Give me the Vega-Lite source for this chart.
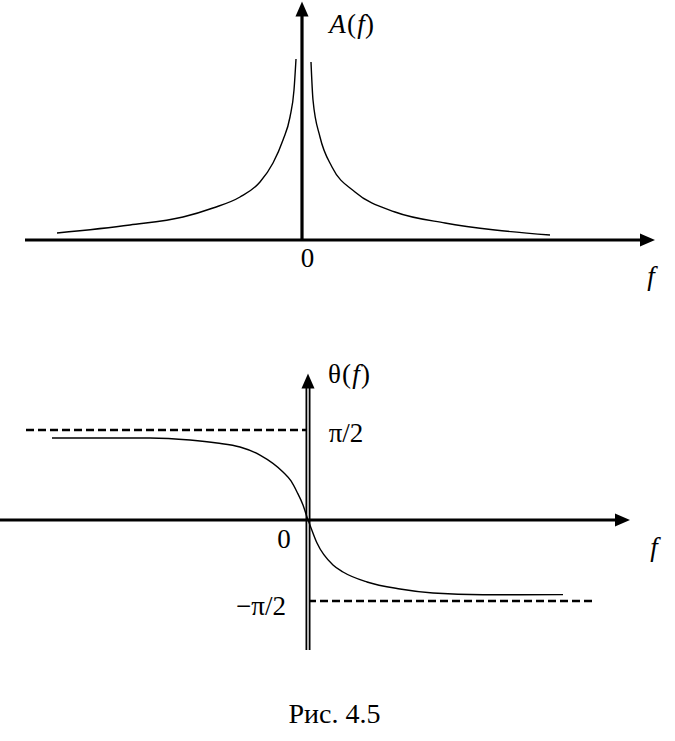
{
  "$schema": "https://vega.github.io/schema/vega-lite/v6.json",
  "padding": 0,
  "bounds": "flush",
  "spacing": 50,
  "background": "white",
  "config": {"view": {"stroke": null}, "font": "Liberation Serif, Times New Roman, DejaVu Serif, serif"},
  "title": {"text": "Рис. 4.5", "orient": "bottom", "anchor": "middle", "frame": "group", "offset": 63, "baseline": "alphabetic", "font": "Liberation Serif, Times New Roman, DejaVu Serif, serif", "fontSize": 28, "fontWeight": "normal", "color": "black", "dx": -3},
  "datasets": {
    "amplitude": [
      {"branch": "left", "f": -4.9, "A": 0.175},
      {"branch": "left", "f": -3.44, "A": 0.375},
      {"branch": "left", "f": -2.38, "A": 0.575},
      {"branch": "left", "f": -1.78, "A": 0.8},
      {"branch": "left", "f": -1.24, "A": 1.075},
      {"branch": "left", "f": -0.84, "A": 1.45},
      {"branch": "left", "f": -0.58, "A": 1.925},
      {"branch": "left", "f": -0.38, "A": 2.5},
      {"branch": "left", "f": -0.24, "A": 3.075},
      {"branch": "left", "f": -0.16, "A": 3.75},
      {"branch": "left", "f": -0.12, "A": 4.525},
      {"branch": "right", "f": 0.18, "A": 4.45},
      {"branch": "right", "f": 0.22, "A": 3.5},
      {"branch": "right", "f": 0.36, "A": 2.575},
      {"branch": "right", "f": 0.6, "A": 1.825},
      {"branch": "right", "f": 1.06, "A": 1.2},
      {"branch": "right", "f": 1.86, "A": 0.7},
      {"branch": "right", "f": 2.86, "A": 0.425},
      {"branch": "right", "f": 3.86, "A": 0.25},
      {"branch": "right", "f": 4.96, "A": 0.125}
    ],
    "axes1": [
      {"axis": "f", "f": -5.54, "A": 0},
      {"axis": "f", "f": 6.91, "A": 0},
      {"axis": "A", "f": 0, "A": 0},
      {"axis": "A", "f": 0, "A": 5.775}
    ],
    "arrows1": [
      {"dir": "right", "f": 6.91, "A": 0},
      {"dir": "up", "f": 0, "A": 5.775}
    ],
    "symbols1": [
      {"t": "(", "f": 0.99, "A": 5.175},
      {"t": ")", "f": 1.35, "A": 5.175},
      {"t": "0", "f": 0.11, "A": -0.675}
    ],
    "variables1": [
      {"t": "A", "f": 0.71, "A": 5.175},
      {"t": "f", "f": 1.18, "A": 5.175},
      {"t": "f", "f": 6.98, "A": -1.125}
    ],
    "phase": [
      {"f": -5.12, "theta": 1.431},
      {"f": -3.16, "theta": 1.431},
      {"f": -2.36, "theta": 1.396},
      {"f": -1.82, "theta": 1.344},
      {"f": -1.36, "theta": 1.274},
      {"f": -0.96, "theta": 1.134},
      {"f": -0.5, "theta": 0.838},
      {"f": -0.34, "theta": 0.681},
      {"f": -0.22, "theta": 0.489},
      {"f": -0.1, "theta": 0.262},
      {"f": 0, "theta": 0},
      {"f": 0.04, "theta": -0.1},
      {"f": 0.18, "theta": -0.446},
      {"f": 0.5, "theta": -0.873},
      {"f": 0.7, "theta": -1.008},
      {"f": 1.18, "theta": -1.202},
      {"f": 1.84, "theta": -1.338},
      {"f": 2.5, "theta": -1.416},
      {"f": 3.5, "theta": -1.45},
      {"f": 5.1, "theta": -1.447}
    ],
    "guides2": [
      {"level": "plus", "f": -5.64, "theta": 1.5708},
      {"level": "plus", "f": 0, "theta": 1.5708},
      {"level": "minus", "f": 0, "theta": -1.5708},
      {"level": "minus", "f": 5.68, "theta": -1.5708}
    ],
    "axisH2": [
      {"f": -6.16, "theta": 0},
      {"f": 6.29, "theta": 0}
    ],
    "axisV2": [
      {"f": 0, "theta": -2.521},
      {"f": 0, "theta": 2.426}
    ],
    "arrows2": [
      {"dir": "right", "f": 6.29, "theta": 0},
      {"dir": "up", "f": 0, "theta": 2.426}
    ],
    "symbols2": [
      {"t": "θ", "f": 0.53, "theta": 2.391},
      {"t": "(", "f": 0.77, "theta": 2.391},
      {"t": ")", "f": 1.15, "theta": 2.391},
      {"t": "π/2", "f": 0.76, "theta": 1.361},
      {"t": "0", "f": -0.48, "theta": -0.543},
      {"t": "−π/2", "f": -0.94, "theta": -1.842}
    ],
    "variables2": [
      {"t": "f", "f": 0.96, "theta": 2.391},
      {"t": "f", "f": 6.92, "theta": -0.698}
    ]
  },
  "vconcat": [
    {
      "width": 675,
      "height": 290,
      "encoding": {
        "x": {"field": "f", "type": "quantitative", "scale": {"domain": [-6.04, 7.46], "nice": false, "zero": false}, "axis": null},
        "y": {"field": "A", "type": "quantitative", "scale": {"domain": [-1.25, 6], "nice": false, "zero": false}, "axis": null}
      },
      "layer": [
        {"data": {"name": "amplitude"}, "mark": {"type": "line", "color": "black", "strokeWidth": 1.4, "interpolate": "monotone"}, "encoding": {"detail": {"field": "branch"}}},
        {"data": {"name": "axes1"}, "mark": {"type": "line", "color": "black", "strokeWidth": 3.2, "clip": true}, "encoding": {"detail": {"field": "axis"}}},
        {"data": {"name": "arrows1"}, "mark": {"type": "point", "filled": true, "color": "black", "size": 225, "opacity": 1}, "encoding": {"shape": {"field": "dir", "type": "nominal", "scale": {"domain": ["right", "up"], "range": ["M-1,-0.87L1,0L-1,0.87Z", "M0,-1L0.87,1L-0.87,1Z"]}, "legend": null}}},
        {"data": {"name": "symbols1"}, "mark": {"type": "text", "font": "Liberation Serif, Times New Roman, DejaVu Serif, serif", "fontSize": 27, "align": "center", "baseline": "alphabetic", "color": "black"}, "encoding": {"text": {"field": "t"}}},
        {"data": {"name": "variables1"}, "mark": {"type": "text", "font": "Liberation Serif, Times New Roman, DejaVu Serif, serif", "fontSize": 27, "fontStyle": "italic", "align": "center", "baseline": "alphabetic", "color": "black"}, "encoding": {"text": {"field": "t"}}}
      ]
    },
    {
      "width": 675,
      "height": 320,
      "encoding": {
        "x": {"field": "f", "type": "quantitative", "scale": {"domain": [-6.16, 7.34], "nice": false, "zero": false}, "axis": null},
        "y": {"field": "theta", "type": "quantitative", "scale": {"domain": [-1.5708, 0, 1.5708], "range": [261, 180, 90], "nice": false, "zero": false}, "axis": null}
      },
      "layer": [
        {"data": {"name": "guides2"}, "mark": {"type": "line", "color": "black", "strokeWidth": 2.5, "strokeDash": [8, 4]}, "encoding": {"detail": {"field": "level"}}},
        {"data": {"name": "axisV2"}, "mark": {"type": "line", "color": "black", "strokeWidth": 5}, "encoding": {}},
        {"data": {"name": "axisV2"}, "mark": {"type": "line", "color": "white", "strokeWidth": 1.4}, "encoding": {}},
        {"data": {"name": "axisH2"}, "mark": {"type": "line", "color": "black", "strokeWidth": 3.2, "clip": true}, "encoding": {}},
        {"data": {"name": "phase"}, "mark": {"type": "line", "color": "black", "strokeWidth": 1.4, "interpolate": "monotone"}, "encoding": {}},
        {"data": {"name": "arrows2"}, "mark": {"type": "point", "filled": true, "color": "black", "size": 225, "opacity": 1}, "encoding": {"shape": {"field": "dir", "type": "nominal", "scale": {"domain": ["right", "up"], "range": ["M-1,-0.87L1,0L-1,0.87Z", "M0,-1L0.87,1L-0.87,1Z"]}, "legend": null}}},
        {"data": {"name": "symbols2"}, "mark": {"type": "text", "font": "Liberation Serif, Times New Roman, DejaVu Serif, serif", "fontSize": 27, "align": "center", "baseline": "alphabetic", "color": "black"}, "encoding": {"text": {"field": "t"}}},
        {"data": {"name": "variables2"}, "mark": {"type": "text", "font": "Liberation Serif, Times New Roman, DejaVu Serif, serif", "fontSize": 27, "fontStyle": "italic", "align": "center", "baseline": "alphabetic", "color": "black"}, "encoding": {"text": {"field": "t"}}}
      ]
    }
  ]
}
